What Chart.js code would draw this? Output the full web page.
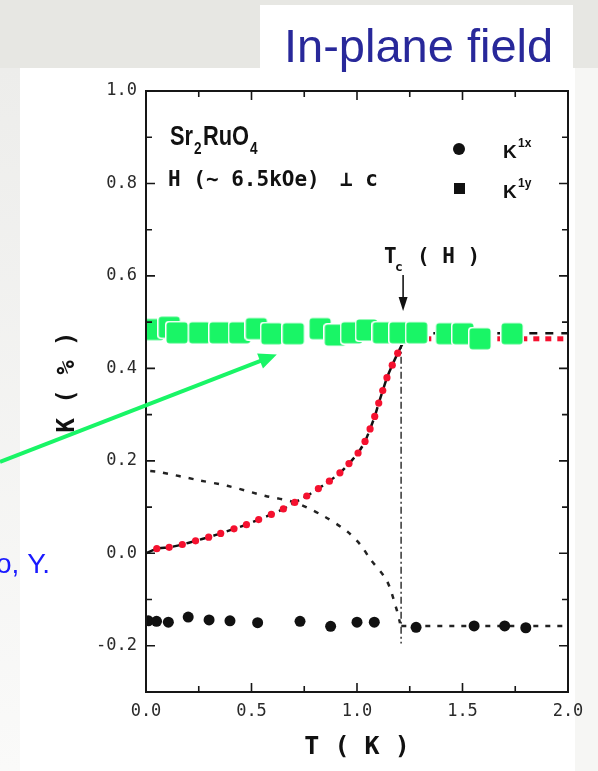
<!DOCTYPE html>
<html>
<head>
<meta charset="utf-8">
<style>
html, body { margin: 0; padding: 0; background: #fff; }
</style>
<script src="https://cdn.jsdelivr.net/npm/chart.js@4.4.1/dist/chart.umd.min.js"></script>
</head>
<body>
<canvas id="knight" width="598" height="771"></canvas>
<script>
// K^1y, superconducting + normal state (green overlay squares)
const greenT = [0.033, 0.11, 0.147, 0.254, 0.351, 0.444, 0.523, 0.596, 0.698, 0.825, 0.897, 0.975, 1.046, 1.125, 1.204, 1.283, 1.425, 1.502, 1.583, 1.735];
const greenK = [0.484, 0.489, 0.477, 0.477, 0.477, 0.477, 0.486, 0.475, 0.475, 0.486, 0.472, 0.477, 0.483, 0.477, 0.477, 0.477, 0.475, 0.475, 0.464, 0.475];

// red dots along the calculated curve
const redT = [0.051, 0.11, 0.172, 0.235, 0.297, 0.354, 0.417, 0.476, 0.534, 0.594, 0.651, 0.705, 0.762, 0.817, 0.869, 0.919, 0.962, 1.005, 1.038, 1.062, 1.084, 1.103, 1.122, 1.142, 1.167, 1.193, 1.223];
const redK = [0.010, 0.013, 0.019, 0.027, 0.035, 0.043, 0.053, 0.062, 0.073, 0.084, 0.096, 0.110, 0.124, 0.140, 0.156, 0.174, 0.194, 0.217, 0.242, 0.269, 0.296, 0.325, 0.352, 0.380, 0.407, 0.433, 0.460];

// black dotted curve falling to Tc
const dropT = [0.02, 0.062, 0.251, 0.385, 0.567, 0.706, 0.844, 0.954, 1.017, 1.062, 1.141, 1.188, 1.204];
const dropK = [0.178, 0.176, 0.158, 0.146, 0.124, 0.110, 0.080, 0.047, 0.018, -0.012, -0.059, -0.122, -0.151];

// K^1x (black circles)
const circT = [0.011, 0.05, 0.106, 0.2, 0.299, 0.398, 0.529, 0.73, 0.875, 1.0, 1.082, 1.28, 1.555, 1.70, 1.80];
const circK = [-0.146, -0.147, -0.149, -0.138, -0.144, -0.146, -0.150, -0.147, -0.158, -0.149, -0.149, -0.160, -0.157, -0.157, -0.161];

// normal state lines and Tc marker
const normT = [1.21, 2.0];
const normRedK = 0.464;
const normBlackK = 0.476;
const normCircK = -0.157;
const tcT = 1.209;
const tcK = [0.49, -0.195];

const xTicks = [0, 0.5, 1.0, 1.5, 2.0];
const xMinor = [0.25, 0.75, 1.25, 1.75];
const yTicks = [-0.2, 0.0, 0.2, 0.4, 0.6, 0.8, 1.0];
const yMinor = [-0.3, -0.1, 0.1, 0.3, 0.5, 0.7, 0.9];

function pts(xs, ys) {
	return xs.map((x, i) => ({x: x, y: Array.isArray(ys) ? ys[i] : ys}));
}

// rounded green square used as point style
const sq = document.createElement('canvas');
sq.width = 24; sq.height = 24;
(function () {
	const g = sq.getContext('2d');
	function rr(x, y, w, h, r) {
		g.beginPath();
		g.moveTo(x + r, y);
		g.arcTo(x + w, y, x + w, y + h, r);
		g.arcTo(x + w, y + h, x, y + h, r);
		g.arcTo(x, y + h, x, y, r);
		g.arcTo(x, y, x + w, y, r);
		g.closePath();
	}
	g.fillStyle = '#ffffff'; rr(0, 0, 24, 24, 4); g.fill();
	g.fillStyle = '#19f566'; rr(1.5, 1.5, 21, 21, 3); g.fill();
})();

const mono = '"DejaVu Sans Mono", monospace';

function squeeze(c, txt, x, y, font, sx) {
	c.save();
	c.font = font;
	c.translate(x, y);
	c.scale(sx, 1);
	c.fillText(txt, 0, 0);
	c.restore();
}

const slide = {
	id: 'slide',
	beforeDraw(chart) {
		const c = chart.ctx;
		c.save();
		c.fillStyle = '#e7e7e3';
		c.fillRect(0, 0, 598, 771);
		const g = c.createLinearGradient(0, 68, 0, 771);
		g.addColorStop(0, '#ededeb');
		g.addColorStop(1, '#fafaf9');
		c.fillStyle = g;
		c.fillRect(0, 68, 20, 703);
		c.fillStyle = '#f6f6f4';
		c.fillRect(575, 68, 23, 703);
		c.fillStyle = '#ffffff';
		c.fillRect(20, 68, 555, 703);
		c.fillRect(260, 5, 313, 63);
		c.fillStyle = '#28289a';
		c.font = '47px "Liberation Sans", Arial, sans-serif';
		c.textBaseline = 'alphabetic';
		c.fillText('In-plane field', 284, 62);
		c.fillStyle = '#1a1aff';
		c.font = '28px "Liberation Sans", Arial, sans-serif';
		c.fillText('o, Y.', -4, 573);
		c.restore();
	},
	afterDraw(chart) {
		const c = chart.ctx, a = chart.chartArea;
		const sx = chart.scales.x, sy = chart.scales.y;
		c.save();
		// frame and inward ticks
		c.strokeStyle = '#161616';
		c.lineWidth = 2;
		c.strokeRect(a.left, a.top, a.right - a.left, a.bottom - a.top);
		c.lineWidth = 1.6;
		c.beginPath();
		xTicks.concat(xMinor).forEach(v => {
			const p = sx.getPixelForValue(v), l = xMinor.includes(v) ? 6 : 9;
			c.moveTo(p, a.bottom); c.lineTo(p, a.bottom - l);
			c.moveTo(p, a.top); c.lineTo(p, a.top + l);
		});
		yTicks.concat(yMinor).forEach(v => {
			const p = sy.getPixelForValue(v), l = yMinor.includes(v) ? 6 : 9;
			c.moveTo(a.left, p); c.lineTo(a.left + l, p);
			c.moveTo(a.right, p); c.lineTo(a.right - l, p);
		});
		c.stroke();

		// in-plot labels
		c.fillStyle = '#111';
		c.textBaseline = 'alphabetic';
		squeeze(c, 'Sr', 170, 145, 'bold 28px "Liberation Sans", Arial', 0.78);
		squeeze(c, '2', 194, 154, 'bold 17px "Liberation Sans", Arial', 0.8);
		squeeze(c, 'RuO', 203, 145, 'bold 28px "Liberation Sans", Arial', 0.78);
		squeeze(c, '4', 250, 154, 'bold 17px "Liberation Sans", Arial', 0.8);
		c.font = 'bold 21px ' + mono;
		c.fillText('H (\u223C 6.5kOe)', 168, 186);
		c.fillText('\u22A5 c', 340, 186);

		// legend
		c.beginPath();
		c.arc(459, 149, 6, 0, Math.PI * 2);
		c.fill();
		c.fillRect(454, 183, 11, 11);
		c.font = 'bold 19px "Liberation Sans", Arial';
		c.fillText('K', 503, 158);
		c.fillText('K', 503, 198);
		c.font = 'bold 12px "Liberation Sans", Arial';
		c.fillText('1x', 518, 147);
		c.fillText('1y', 518, 187);

		// Tc (H) with arrow
		c.font = 'bold 21px ' + mono;
		c.fillText('T', 384, 263);
		c.fillText('( H )', 417, 263);
		c.font = 'bold 13px ' + mono;
		c.fillText('c', 395, 271);
		const ax = sx.getPixelForValue(tcT) + 2;
		c.lineWidth = 1.6;
		c.beginPath(); c.moveTo(ax, 275); c.lineTo(ax, 302); c.stroke();
		c.beginPath(); c.moveTo(ax - 4.5, 297); c.lineTo(ax + 4.5, 297); c.lineTo(ax, 311); c.closePath(); c.fill();

		// y axis title
		c.save();
		c.translate(68, 382);
		c.rotate(-Math.PI / 2);
		c.textAlign = 'center';
		c.textBaseline = 'middle';
		c.font = 'bold 24px ' + mono;
		c.fillText('K ( % )', 0, 0);
		c.restore();

		// green arrow from the slide text
		const tx = sx.getPixelForValue(0.62), ty = sy.getPixelForValue(0.43);
		const fx = 0, fy = 462;
		const ang = Math.atan2(ty - fy, tx - fx);
		c.strokeStyle = '#19f566';
		c.fillStyle = '#19f566';
		c.lineWidth = 4;
		c.beginPath();
		c.moveTo(fx, fy);
		c.lineTo(tx - 14 * Math.cos(ang), ty - 14 * Math.sin(ang));
		c.stroke();
		c.beginPath();
		c.moveTo(tx, ty);
		c.lineTo(tx - 18 * Math.cos(ang) + 8 * Math.sin(ang), ty - 18 * Math.sin(ang) - 8 * Math.cos(ang));
		c.lineTo(tx - 18 * Math.cos(ang) - 8 * Math.sin(ang), ty - 18 * Math.sin(ang) + 8 * Math.cos(ang));
		c.closePath();
		c.fill();
		c.restore();
	}
};

const line = (data, color, width, dash, order, tension) => ({
	data: data,
	showLine: true,
	borderColor: color,
	borderWidth: width,
	borderDash: dash,
	pointRadius: 0,
	fill: false,
	tension: tension || 0,
	order: order,
});

const chrt = document.getElementById('knight').getContext('2d');
const knight = new Chart(chrt, {
	type: 'scatter',
	data: {
		datasets: [
			{
				label: 'K1y',
				data: pts(greenT, greenK),
				pointStyle: sq,
				pointRadius: 11,
				order: 0,
			},
			{
				label: 'calc',
				data: pts(redT, redK),
				pointRadius: 3.6,
				pointBackgroundColor: '#f5112f',
				pointBorderWidth: 0,
				order: 1,
			},
			line(pts(normT, normRedK), '#f5112f', 5, [6, 6], 2),
			{
				label: 'K1x',
				data: pts(circT, circK),
				pointRadius: 5.5,
				pointBackgroundColor: '#111',
				pointBorderWidth: 0,
				order: 2,
			},
			line(pts(normT, normBlackK), '#111', 2.5, [8, 8], 4),
			line(pts([0].concat(redT), [0].concat(redK)), '#111', 2.5, [9, 5], 5, 0.2),
			line(pts(dropT, dropK), '#222', 2.5, [5, 8], 5, 0.3),
			line(pts([tcT, tcT], tcK), '#333', 1.5, [7, 3, 2, 3], 5),
			line(pts(normT, normCircK), '#222', 2.5, [5, 7], 5),
		]
	},
	options: {
		responsive: false,
		animation: false,
		devicePixelRatio: 1,
		layout: {
			padding: {left: 0, top: 91, right: 30, bottom: 0}
		},
		plugins: {
			legend: {display: false},
			tooltip: {enabled: false},
		},
		elements: {
			point: {borderWidth: 0},
		},
		scales: {
			x: {
				type: 'linear',
				min: 0,
				max: 2,
				afterFit: s => { s.height = 79; },
				afterBuildTicks: s => { s.ticks = xTicks.map(v => ({value: v})); },
				ticks: {
					padding: 9,
					color: '#2a2a2a',
					font: {family: mono, size: 17},
					callback: v => v.toFixed(1),
				},
				grid: {display: false, drawTicks: false},
				border: {display: false},
				title: {
					display: true,
					text: 'T ( K )',
					color: '#111',
					font: {family: mono, size: 25, weight: 'bold'},
					padding: {top: 0, bottom: 9},
				},
			},
			y: {
				type: 'linear',
				min: -0.3,
				max: 1.0,
				afterFit: s => { s.width = 146; },
				afterBuildTicks: s => { s.ticks = yTicks.map(v => ({value: v})); },
				ticks: {
					padding: 9,
					color: '#2a2a2a',
					font: {family: mono, size: 17},
					callback: v => v.toFixed(1),
				},
				grid: {display: false, drawTicks: false},
				border: {display: false},
			},
		},
	},
	plugins: [slide],
});
</script>
</body>
</html>
